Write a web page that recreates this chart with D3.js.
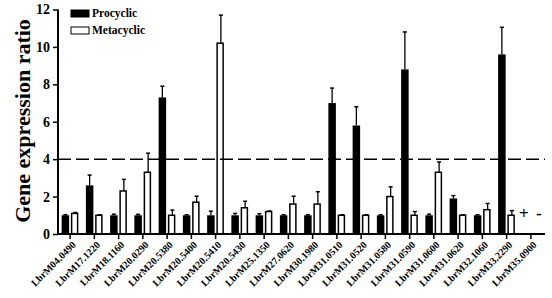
<!DOCTYPE html>
<html>
<head>
<meta charset="utf-8">
<script src="https://cdn.jsdelivr.net/npm/d3@7"></script>
<style>
  body { margin: 0; background: #fff; }
  text { font-family: "Liberation Serif", "Times New Roman", serif; font-weight: bold; }
</style>
</head>
<body>
<script>
// genes on the x axis
const genes = ['LbrM04.0490', 'LbrM17.1220', 'LbrM18.1160', 'LbrM20.0290', 'LbrM20.5380',
  'LbrM20.5400', 'LbrM20.5410', 'LbrM20.5430', 'LbrM25.1350', 'LbrM27.0620',
  'LbrM30.1980', 'LbrM31.0510', 'LbrM31.0520', 'LbrM31.0580', 'LbrM31.0590',
  'LbrM31.0600', 'LbrM31.0620', 'LbrM32.1060', 'LbrM33.2290', 'LbrM35.0900'];

// last gene has no bars (shown as + / -)
const procyclic = [1.0, 2.6, 1.0, 1.0, 7.3, 1.0, 1.0, 1.0, 1.0, 1.0, 1.0, 7.0, 5.8, 1.0, 8.8, 1.0, 1.9, 1.0, 9.6, null];
const procyclicErr = [0.03, 0.55, 0.06, 0.05, 0.6, 0.03, 0.22, 0.1, 0.08, 0.03, 0.03, 0.8, 1.0, 0.03, 2.0, 0.06, 0.15, 0.03, 1.45, null];
const metacyclic = [1.1, 1.0, 2.3, 3.3, 1.0, 1.7, 10.2, 1.4, 1.2, 1.6, 1.6, 1.0, 1.0, 2.0, 1.0, 3.3, 1.0, 1.3, 1.0, null];
const metacyclicErr = [0.05, 0.03, 0.62, 1.02, 0.28, 0.32, 1.5, 0.35, 0.03, 0.42, 0.66, 0.03, 0.03, 0.52, 0.2, 0.55, 0.03, 0.33, 0.25, null];

const yTicks = [0, 2, 4, 6, 8, 10, 12];
const threshold = 4;

const width = 552;
const height = 298;

const svg = d3.select('body')
  .append('svg')
  .attr('width', width)
  .attr('height', height);

const x = d3.scaleBand()
  .domain(genes)
  .range([58, 543]);

const y = d3.scaleLinear()
  .domain([0, 12])
  .range([234, 9.5]);

const barW = 7.5;

// bars
genes.forEach((g, i) => {
  const cx = x(g) + x.bandwidth() / 2;
  if (procyclic[i] != null) {
    const bx = cx - 1 - barW;
    svg.append('rect')
      .attr('x', bx)
      .attr('y', y(procyclic[i]))
      .attr('width', barW)
      .attr('height', y(0) - y(procyclic[i]))
      .attr('fill', '#000');
    const top = y(procyclic[i] + procyclicErr[i]);
    svg.append('line')
      .attr('x1', bx + barW / 2).attr('x2', bx + barW / 2)
      .attr('y1', y(procyclic[i])).attr('y2', top)
      .attr('stroke', '#000').attr('stroke-width', 1.3);
    svg.append('line')
      .attr('x1', bx + barW / 2 - 2).attr('x2', bx + barW / 2 + 2)
      .attr('y1', top).attr('y2', top)
      .attr('stroke', '#000').attr('stroke-width', 1.5);
  }
  if (metacyclic[i] != null) {
    const bx = cx + 1.5;
    const top = y(metacyclic[i] + metacyclicErr[i]);
    svg.append('line')
      .attr('x1', bx + barW / 2).attr('x2', bx + barW / 2)
      .attr('y1', y(metacyclic[i])).attr('y2', top)
      .attr('stroke', '#000').attr('stroke-width', 1.3);
    svg.append('line')
      .attr('x1', bx + barW / 2 - 2).attr('x2', bx + barW / 2 + 2)
      .attr('y1', top).attr('y2', top)
      .attr('stroke', '#000').attr('stroke-width', 1.5);
    svg.append('rect')
      .attr('x', bx)
      .attr('y', y(metacyclic[i]))
      .attr('width', barW - 1.5)
      .attr('height', y(0) - y(metacyclic[i]))
      .attr('fill', '#fff')
      .attr('stroke', '#000')
      .attr('stroke-width', 1.5);
  }
});

// + / - for the last gene
const last = genes[genes.length - 1];
const lc = x(last) + x.bandwidth() / 2;
svg.append('text')
  .attr('x', lc - 7).attr('y', y(1) + 4)
  .attr('text-anchor', 'middle')
  .style('font-size', '17px')
  .text('+');
svg.append('text')
  .attr('x', lc + 8).attr('y', y(1) + 4)
  .attr('text-anchor', 'middle')
  .style('font-size', '17px')
  .text('-');

// threshold line
svg.append('line')
  .attr('x1', 58).attr('x2', 545)
  .attr('y1', y(threshold)).attr('y2', y(threshold))
  .attr('stroke', '#000')
  .attr('stroke-width', 1.5)
  .attr('stroke-dasharray', '13,5');

// axes
const yAxis = svg.append('g')
  .attr('transform', 'translate(58,0)')
  .call(d3.axisLeft(y).tickValues(yTicks).tickSize(5).tickPadding(3));

const xAxis = svg.append('g')
  .attr('transform', `translate(0,${y(0)})`)
  .call(d3.axisBottom(x).tickSize(5).tickSizeOuter(0));

[yAxis, xAxis].forEach(a => {
  a.select('.domain').attr('stroke-width', 2);
  a.selectAll('.tick line').attr('stroke-width', 1.5);
});
yAxis.select('.domain').attr('d', `M-0,${y(12)}V${y(0)}`);
xAxis.select('.domain').attr('d', 'M57,0H545');

yAxis.selectAll('text')
  .style('font-size', '14px')
  .style('font-family', '"Liberation Serif", serif')
  .style('font-weight', 'bold');

xAxis.selectAll('text')
  .style('font-size', '10px')
  .style('font-family', '"Liberation Serif", serif')
  .style('font-weight', 'bold')
  .attr('text-anchor', 'end')
  .attr('transform', 'translate(4,9) rotate(-45)')
  .attr('dy', '0.35em')
  .attr('y', 0)
  .attr('x', 0);

// y label
svg.append('text')
  .attr('transform', 'rotate(-90)')
  .attr('x', -121)
  .attr('y', 30)
  .style('text-anchor', 'middle')
  .style('font-size', '22px')
  .text('Gene expression ratio');

// legend
const legend = [['Procyclic', '#000'], ['Metacyclic', '#fff']];
legend.forEach((d, i) => {
  svg.append('rect')
    .attr('x', 71).attr('y', 10 + i * 17)
    .attr('width', 18).attr('height', 7)
    .attr('fill', d[1])
    .attr('stroke', '#000')
    .attr('stroke-width', 1);
  svg.append('text')
    .attr('x', 92).attr('y', 17 + i * 17)
    .style('font-size', '11.5px')
    .text(d[0]);
});
</script>
</body>
</html>
